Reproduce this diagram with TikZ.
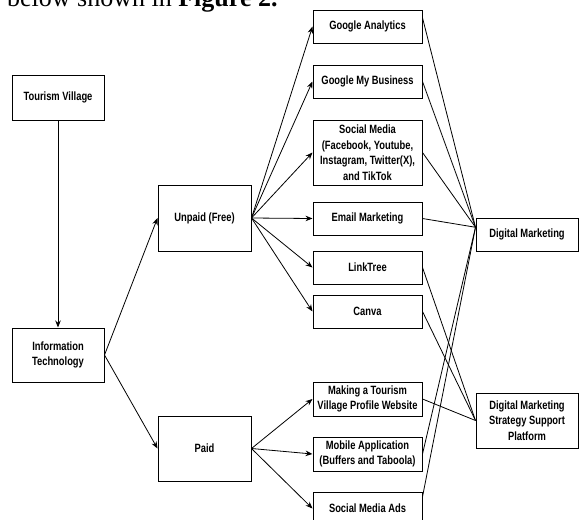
\documentclass[tikz,border=0pt]{standalone}
\usepackage{fontspec}
\setmainfont{Liberation Serif}
\newfontfamily\boxfont[FakeStretch=0.78]{Liberation Sans}
\usetikzlibrary{arrows.meta}

\tikzset{
  box/.style={draw, line width=1pt, align=center, inner sep=0pt,
    font=\boxfont\bfseries\fontsize{12}{15.5}\selectfont},
  flow/.style={-{Stealth[length=7pt,width=5.5pt]}, line width=0.8pt},
  link/.style={line width=0.8pt},
}

\begin{document}
\begin{tikzpicture}[x=1pt, y=-1pt]
\useasboundingbox (0,0) rectangle (579,520);
\clip (0,0) rectangle (579,520);

\node[anchor=base west, inner sep=0pt, font=\fontsize{26}{30}\selectfont]
        (caption) at (7,6.5) {below shown in \textbf{Figure 2.}};

% left side
\node[box, minimum width=92pt, minimum height=45pt] (tv) at (58,97.5) {Tourism Village};
\node[box, minimum width=92pt, minimum height=54pt] (it) at (58,355) {Information\\Technology};
\node[box, minimum width=93pt, minimum height=66pt] (unpaid) at (204.5,218) {Unpaid (Free)};
\node[box, minimum width=93pt, minimum height=65pt] (paid) at (204.5,448.5) {Paid};

% tools
\node[box, minimum width=109pt, minimum height=33pt] (ga) at (367.5,26.5) {Google Analytics};
\node[box, minimum width=109pt, minimum height=33pt] (gmb) at (367.5,81.5) {Google My Business};
\node[box, minimum width=109pt, minimum height=65pt] (sm) at (367.5,152.5)
        {Social Media\\(Facebook, Youtube,\\Instagram, Twitter(X),\\and TikTok};
\node[box, minimum width=109pt, minimum height=33pt] (email) at (367.5,218.5) {Email Marketing};
\node[box, minimum width=109pt, minimum height=33pt] (linktree) at (367.5,267.5) {LinkTree};
\node[box, minimum width=109pt, minimum height=33pt] (canva) at (367.5,311.5) {Canva};
\node[box, minimum width=109pt, minimum height=34pt] (web) at (367.5,399)
        {Making a Tourism\\Village Profile Website};
\node[box, minimum width=109pt, minimum height=34pt] (mobile) at (367.5,454)
        {Mobile Application\\(Buffers and Taboola)};
\node[box, minimum width=109pt, minimum height=33pt] (ads) at (367.5,508.5) {Social Media Ads};

% targets
\node[box, minimum width=102pt, minimum height=33pt] (dm) at (527,234.5) {Digital Marketing};
\node[box, minimum width=102pt, minimum height=55pt] (dmssp) at (527,420.5)
        {Digital Marketing\\Strategy Support\\Platform};

\draw[flow] (tv.south) -- (it.north);
\draw[flow] (it.east) -- (unpaid.west);
\draw[flow] (it.east) -- (paid.west);
\foreach \n in {ga,gmb,sm,email,linktree,canva}
        \draw[flow] (unpaid.east) -- (\n.west);
\foreach \n in {web,mobile,ads}
        \draw[flow] (paid.east) -- (\n.west);

\draw[link] (ga.9) -- (dm.172);
\foreach \n in {gmb,sm,email,mobile}
        \draw[link] (\n.east) -- (dm.172);
\draw[link] (ads.12) -- (dm.172);
\foreach \n in {linktree,canva,web}
        \draw[link] (\n.east) -- (dmssp.west);
\end{tikzpicture}
\end{document}
